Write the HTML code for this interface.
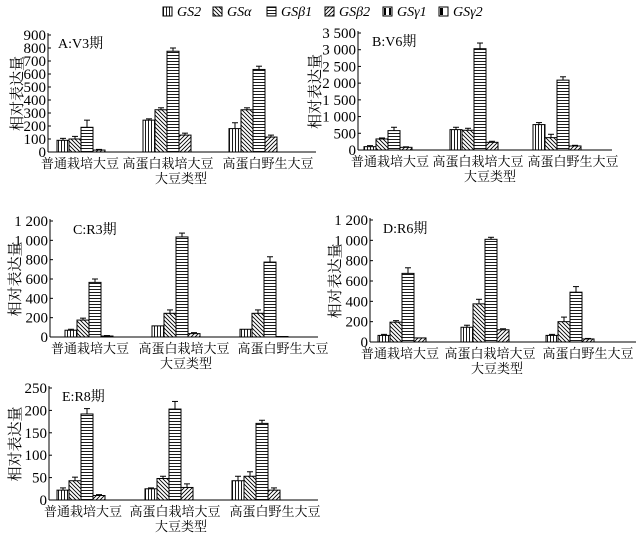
<!DOCTYPE html>
<html><head><meta charset="utf-8"><style>
body{margin:0;background:#fff}
svg{display:block}
text{font-family:"Liberation Serif","Noto Serif CJK SC",serif;fill:#000}
</style></head><body>
<svg id="s" width="643" height="537" viewBox="0 0 643 537" xmlns="http://www.w3.org/2000/svg">
<defs>
<pattern id="pv" width="3" height="3" patternUnits="userSpaceOnUse"><rect width="3" height="3" fill="#fff"/><line x1="1.5" y1="0" x2="1.5" y2="3" stroke="#000" stroke-width="0.9"/></pattern>
<pattern id="ph" width="3" height="3" patternUnits="userSpaceOnUse"><rect width="3" height="3" fill="#fff"/><line x1="0" y1="1.5" x2="3" y2="1.5" stroke="#000" stroke-width="0.9"/></pattern>
<pattern id="pb" width="4" height="4" patternUnits="userSpaceOnUse"><rect width="4" height="4" fill="#fff"/><path d="M-1,-1 L5,5 M-1,3 L1,5 M3,-1 L5,1" stroke="#000" stroke-width="0.9"/></pattern>
<pattern id="pf" width="4" height="4" patternUnits="userSpaceOnUse"><rect width="4" height="4" fill="#fff"/><path d="M-1,5 L5,-1 M-1,1 L1,-1 M3,5 L5,3" stroke="#000" stroke-width="0.9"/></pattern>
</defs>
</svg>
<script>
var s=document.getElementById('s'),NS='http://www.w3.org/2000/svg';
function el(t,a,txt){var e=document.createElementNS(NS,t);for(var k in a)e.setAttribute(k,a[k]);if(txt!==undefined)e.textContent=txt;s.appendChild(e);return e;}
var pats=['url(#pv)','url(#pb)','url(#ph)','url(#pf)'];
var leg=[[163,'GS2',0],[213,'GSα',1],[267,'GSβ1',2],[325,'GSβ2',3],[383,'GSγ1',4],[439,'GSγ2',5]];
leg.forEach(function(l){
  var x=l[0],y=7;
  if(l[2]<4){el('rect',{x:x,y:y,width:9,height:9,fill:pats[l[2]],stroke:'#000','stroke-width':1});}
  else{el('rect',{x:x,y:y,width:9,height:9,fill:'#fff',stroke:'#000','stroke-width':1});
    if(l[2]==4){el('rect',{x:x+1,y:y+1,width:2,height:7,fill:'#000'});el('rect',{x:x+6,y:y+1,width:2,height:7,fill:'#000'});}
    else{el('rect',{x:x+1,y:y+1,width:3,height:7,fill:'#000'});}}
  el('text',{x:x+14,y:y+9,'font-size':14,'font-style':'italic'},l[1]);
});
function panel(p){
  var ax=p.ax,y0=p.y0,yt=p.yt,sc=(y0-yt)/p.max;
  el('line',{x1:ax,y1:yt-2,x2:ax,y2:y0,stroke:'#000','stroke-width':1});
  el('line',{x1:ax,y1:y0,x2:p.xe,y2:y0,stroke:'#000','stroke-width':1});
  for(var v=0;v<=p.max;v+=p.step){var y=y0-v*sc;
    el('line',{x1:ax,y1:y,x2:ax+3,y2:y,stroke:'#000'});
    el('text',{x:ax-2,y:y+5,'font-size':15,'text-anchor':'end'},p.fmt(v));}
  el('text',{x:p.tx,y:yt+13,'font-size':14},p.title);
  el('text',{x:0,y:0,'font-size':15,'text-anchor':'middle',transform:'translate('+(p.yl+2)+','+(p.y0+p.yt)/2+') rotate(-90)'},'相对表达量');
  var names=['普通栽培大豆','高蛋白栽培大豆','高蛋白野生大豆'];
  p.g.forEach(function(gx,gi){
    var d=p.d[gi],e=p.e[gi];
    for(var i=0;i<4;i++){var x=gx+i*12,h=d[i]*sc,top=y0-h;
      if(e[i]>0){var et=top-e[i]*sc;el('line',{x1:x+6,y1:top,x2:x+6,y2:et,stroke:'#000'});el('line',{x1:x+3,y1:et,x2:x+9,y2:et,stroke:'#000'});}
      el('rect',{x:x,y:top,width:12,height:h,fill:pats[i],stroke:'#000','stroke-width':1});
    }
    el('text',{x:p.lc[gi],y:y0+16,'font-size':13,'text-anchor':'middle'},names[gi]);
  });
  el('text',{x:p.xc,y:y0+31,'font-size':13,'text-anchor':'middle'},'大豆类型');
}
function f1(v){return String(v);}
function f2(v){return v>=1000?String(Math.floor(v/1000))+' '+String(v%1000).padStart(3,'0'):String(v);}
panel({ax:48,y0:152,yt:35,max:900,step:100,xe:316,fmt:f1,title:'A:V3期',tx:58,yl:20,g:[57,143,229],lc:[80,168,268],xc:181,
 d:[[90,100,190,15],[245,325,775,130],[180,325,635,115]],e:[[15,20,55,5],[10,15,25,15],[45,15,25,15]]});
panel({ax:358,y0:150,yt:33,max:3500,step:500,xe:612,fmt:f2,title:'B:V6期',tx:372,yl:318,g:[364,450,533],lc:[390,478,573],xc:490,
 d:[[100,330,580,80],[610,590,3030,230],[760,370,2090,120]],e:[[30,30,100,15],[70,60,170,30],[60,100,100,20]]});
panel({ax:50,y0:337,yt:221,max:1200,step:200,xe:318,fmt:f2,title:'C:R3期',tx:73,yl:18,g:[65,152,240],lc:[90,184,283],xc:186,
 d:[[70,175,565,10],[115,245,1035,35],[80,245,775,5]],e:[[10,20,35,5],[0,35,40,10],[0,35,55,0]]});
panel({ax:370,y0:342,yt:220,max:1200,step:200,xe:636,fmt:f2,title:'D:R6期',tx:383,yl:338,g:[378,461,546],lc:[400,490,588],xc:497,
 d:[[65,195,675,40],[145,375,1010,120],[65,200,490,30]],e:[[10,15,55,0],[20,45,20,10],[10,45,55,5]]});
panel({ax:49,y0:500,yt:388,max:250,step:50,xe:318,fmt:f1,title:'E:R8期',tx:62,yl:18,g:[57,145,232],lc:[83,175,275],xc:181,
 d:[[22,43,192,10],[25,48,203,28],[43,53,171,22]],e:[[5,8,12,2],[2,5,17,8],[10,10,7,5]]});
</script>
</body></html>
